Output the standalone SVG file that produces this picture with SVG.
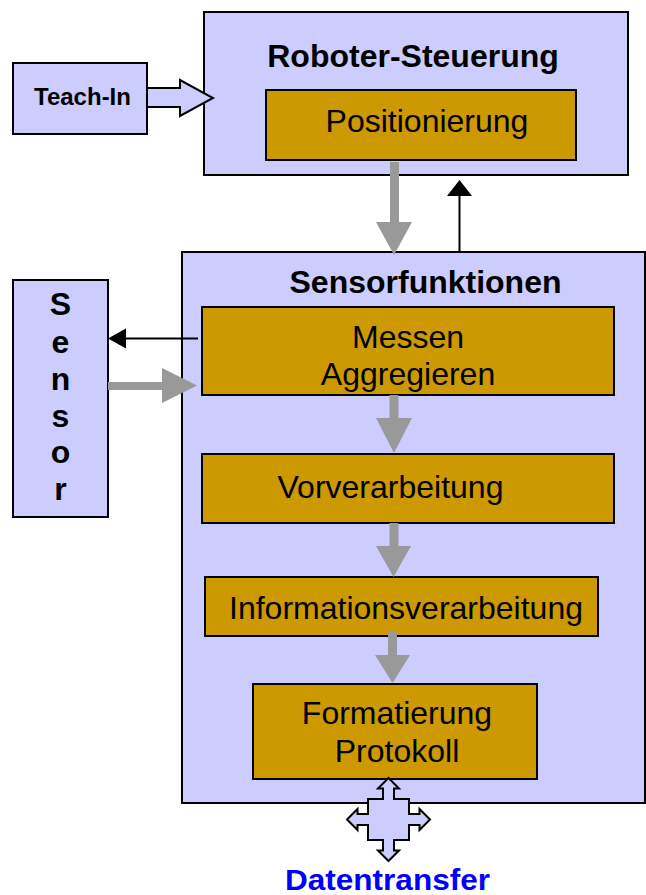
<svg xmlns="http://www.w3.org/2000/svg" width="646" height="895" viewBox="0 0 646 895">
<style>
.lav{fill:#ccccff;stroke:#000;stroke-width:2}
.gold{fill:#cc9900;stroke:#000;stroke-width:2}
.t{font-family:"Liberation Sans",Arial,sans-serif;font-size:32px;fill:#000;text-anchor:middle}
.b{font-weight:bold}
.gray{fill:#999999;stroke:none}
.blk{stroke:#000;stroke-width:2;fill:none}
</style>
<rect width="646" height="895" fill="#ffffff"/>
<g id="roboter">
<rect class="lav" x="204" y="12" width="424" height="163"/>
<text class="t b" x="413" y="67">Roboter-Steuerung</text>
</g>
<g id="positionierung">
<rect class="gold" x="266" y="90" width="310" height="70"/>
<text class="t" x="427" y="132">Positionierung</text>
</g>
<g id="teachin">
<rect class="lav" x="13" y="63" width="134" height="71"/>
<text class="t b" x="82.5" y="105" style="font-size:24px">Teach-In</text>
</g>
<g id="sensorfunktionen">
<rect class="lav" x="182" y="252" width="463" height="551"/>
<text class="t b" x="425.5" y="293">Sensorfunktionen</text>
</g>
<g id="sensor">
<rect class="lav" x="13" y="280" width="95" height="237"/>
<text class="t b" x="60.5" y="315">S</text>
<text class="t b" x="60.5" y="353">e</text>
<text class="t b" x="60.5" y="390">n</text>
<text class="t b" x="60.5" y="427">s</text>
<text class="t b" x="60.5" y="463">o</text>
<text class="t b" x="60.5" y="500">r</text>
</g>
<g id="messen">
<rect class="gold" x="202" y="307" width="412" height="88"/>
<text class="t" x="408" y="348">Messen</text>
<text class="t" x="408" y="385">Aggregieren</text>
</g>
<g id="vorverarbeitung">
<rect class="gold" x="202" y="454" width="412" height="69"/>
<text class="t" x="390.5" y="498">Vorverarbeitung</text>
</g>
<g id="informationsverarbeitung">
<rect class="gold" x="205" y="577" width="393" height="59"/>
<text class="t" x="406" y="619">Informationsverarbeitung</text>
</g>
<g id="formatierung">
<rect class="gold" x="253" y="684" width="284" height="95"/>
<text class="t" x="397" y="724">Formatierung</text>
<text class="t" x="397" y="762">Protokoll</text>
</g>
<g id="datentransfer">
<text class="t b" x="387.5" y="890" textLength="205" lengthAdjust="spacingAndGlyphs" style="fill:#0000ff;font-size:29px">Datentransfer</text>
</g>
<g id="connectors">
<path class="lav" d="M147,88 H180 V80 L213,98 L180,116 V107 H147 Z"/>
<path class="gray" d="M390,162 H399 V222 H412 L394,255 L376,222 H390 Z"/>
<line class="blk" x1="459.5" y1="252" x2="459.5" y2="194"/>
<path d="M459.5,180 L472,196 L447,196 Z" fill="#000"/>
<line class="blk" x1="198" y1="338.5" x2="124" y2="338.5"/>
<path d="M108,338.5 L126,328.5 L126,348.5 Z" fill="#000"/>
<path class="gray" d="M108,382 H162 V368 L197,385.5 L162,403 V390 H108 Z"/>
<path class="gray" d="M389.5,395 H398.5 V418 H412 L394,453 L376,418 H389.5 Z"/>
<path class="gray" d="M389.5,523 H398.5 V546 H411 L393.5,577 L376,546 H389.5 Z"/>
<path class="gray" d="M388,632 H397 V655 H410 L392.5,683 L375,655 H388 Z"/>
<path class="lav" stroke-width="1.8" d="M388.5,778 L399,788.5 L394,788.5 L394,799 L409,799 L409,814 L419.5,814 L419.5,809 L430,819.5 L419.5,830 L419.5,825 L409,825 L409,840 L394,840 L394,850.5 L399,850.5 L388.5,861 L378,850.5 L383,850.5 L383,840 L368,840 L368,825 L357.5,825 L357.5,830 L347,819.5 L357.5,809 L357.5,814 L368,814 L368,799 L383,799 L383,788.5 L378,788.5 Z"/>
</g>
</svg>
